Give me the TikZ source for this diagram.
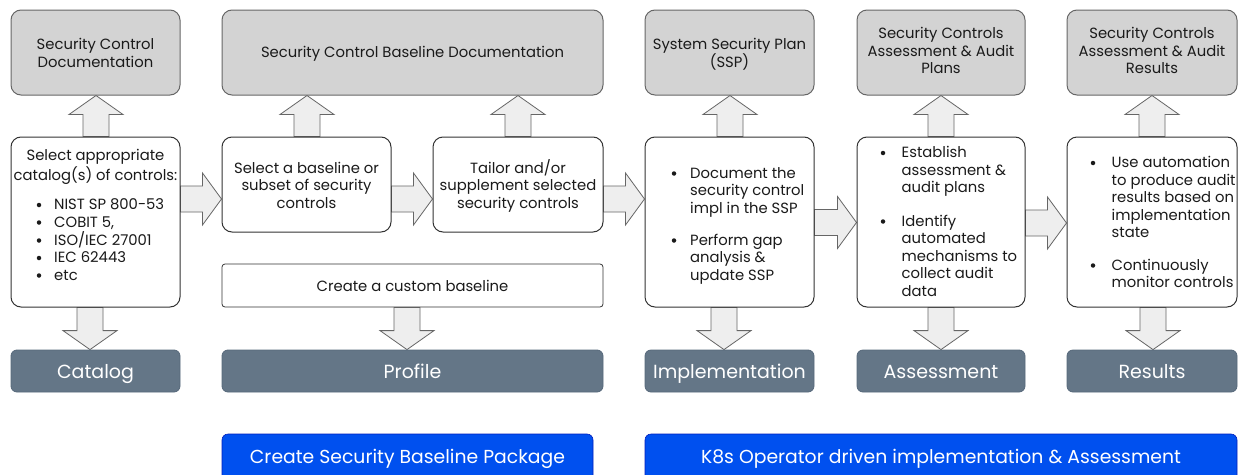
\documentclass[tikz,border=0pt]{standalone}
\usepackage{fontspec}
\setmainfont{Poppins}
\usetikzlibrary{calc,backgrounds}

\definecolor{docfill}{HTML}{D3D3D3}
\definecolor{docline}{HTML}{666666}
\definecolor{boxline}{HTML}{333333}
\definecolor{arrfill}{HTML}{EEEEEE}
\definecolor{arrline}{HTML}{666666}
\definecolor{slatefill}{HTML}{647687}
\definecolor{slateline}{HTML}{56687A}
\definecolor{cobalt}{HTML}{0050EF}
\definecolor{cobaltline}{HTML}{001DBC}
\definecolor{ink}{HTML}{1A1A1A}

\tikzset{
  docbox/.style={draw=docline, fill=docfill, line width=1pt, rounded corners=10pt, inner sep=0pt},
  stepbox/.style={draw=boxline, fill=white, line width=1pt, rounded corners=10pt, inner sep=0pt},
  flatbox/.style={draw=boxline, fill=white, line width=0.8pt, rounded corners=3pt, inner sep=0pt},
  stagebox/.style={draw=slateline, fill=slatefill, line width=0.8pt, rounded corners=6pt, inner sep=0pt},
  phasebox/.style={draw=cobaltline, fill=cobalt, line width=0.6pt, rounded corners=6pt, inner sep=0pt},
  txt/.style={font=\fontsize{14.8}{17.5}\selectfont, text=ink, inner sep=0pt},
  stagetxt/.style={font=\fontsize{19}{22}\selectfont, text=white, inner sep=0pt, anchor=base},
  phasetxt/.style={font=\fontsize{18.8}{22}\selectfont, text=white, inner sep=0pt, anchor=base},
  dot/.style={circle, fill=ink, inner sep=0pt, minimum size=4.5pt},
  blockarrow/.style={draw=arrline, fill=arrfill, line width=0.8pt, line join=miter},
}

% box from corner (x1,y1) to (x2,y2)
\newcommand\panel[6]{%
  \pgfmathsetmacro\pw{#5-#3}\pgfmathsetmacro\ph{#6-#4}%
  \node[#2, minimum width=\pw pt, minimum height=\ph pt] (#1) at ({(#3+#5)/2},{(#4+#6)/2}) {};}

% centred lines of text: name, x, first baseline, list
\newcommand\clines[4]{%
  \foreach \t [count=\i] in {#4}
    \node[txt, anchor=base] (#1-\i) at (#2,{#3+17.5*(\i-1)}) {\t};}

% bulleted item: name, bullet x, text x, first baseline, list
\newcommand\bitem[5]{%
  \node[dot] (#1-dot) at (#2,{#4-4.5}) {};
  \foreach \t [count=\i] in {#5}
    \node[txt, anchor=base west] (#1-\i) at (#3,{#4+17.5*(\i-1)}) {\t};}

% block arrows: x, lower node, upper node
\newcommand\uparr[3]{%
  \draw[blockarrow] let \p1=(#2.north), \p2=(#3.south) in
    ({#1pt-13pt},\y1) -- ({#1pt-13pt},{\y2-19pt}) -- ({#1pt-27pt},{\y2-19pt})
    -- (#1pt,\y2) -- ({#1pt+27pt},{\y2-19pt}) -- ({#1pt+13pt},{\y2-19pt})
    -- ({#1pt+13pt},\y1) -- cycle;}
% x, upper node, lower node
\newcommand\downarr[3]{%
  \draw[blockarrow] let \p1=(#2.south), \p2=(#3.north) in
    ({#1pt-13pt},\y1) -- ({#1pt-13pt},{\y2+19pt}) -- ({#1pt-27pt},{\y2+19pt})
    -- (#1pt,\y2) -- ({#1pt+27pt},{\y2+19pt}) -- ({#1pt+13pt},{\y2+19pt})
    -- ({#1pt+13pt},\y1) -- cycle;}
% y, left node, right node
\newcommand\rightarr[3]{%
  \draw[blockarrow] let \p1=(#2.east), \p2=(#3.west) in
    (\x1,{-#1pt+13pt}) -- ({\x2-19pt},{-#1pt+13pt}) -- ({\x2-19pt},{-#1pt+26pt})
    -- (\x2,-#1pt) -- ({\x2-19pt},{-#1pt-26pt}) -- ({\x2-19pt},{-#1pt-13pt})
    -- (\x1,{-#1pt-13pt}) -- cycle;}

\begin{document}
\begin{tikzpicture}[x=1pt,y=-1pt]
\useasboundingbox (0,0) rectangle (1239,474);

% documentation outputs
\panel{doc1}{docbox}{11}{10}{180}{95}
\panel{doc2}{docbox}{222}{10}{603}{95}
\panel{doc3}{docbox}{645}{10}{814}{95}
\panel{doc4}{docbox}{857}{10}{1025}{95}
\panel{doc5}{docbox}{1067}{10}{1237}{95}
\clines{doc1t}{95.5}{49.5}{Security Control,Documentation}
\clines{doc2t}{412.5}{57.5}{Security Control Baseline Documentation}
\clines{doc3t}{729.5}{49.5}{System Security Plan,(SSP)}
\clines{doc4t}{941}{38.5}{Security Controls,Assessment \& Audit,Plans}
\clines{doc5t}{1152}{38.5}{Security Controls,Assessment \& Audit,Results}

% process steps
\panel{cat}{stepbox}{11}{137}{180}{307}
\panel{sel}{stepbox}{222}{137}{391}{232}
\panel{tail}{stepbox}{433}{137}{603}{232}
\panel{cust}{flatbox}{222}{264}{603}{307}
\panel{impl}{stepbox}{645}{137}{814}{307}
\panel{assess}{stepbox}{857}{137}{1025}{307}
\panel{res}{stepbox}{1067}{137}{1237}{307}

\node[txt, anchor=base] (catt-1) at (95.5,160.5) {Select appropriate};
\node[txt, anchor=base] (catt-2) at (95.5,180) {catalog(s) of controls:};
\bitem{cati1}{39}{54}{209.5}{NIST SP 800-53}
\bitem{cati2}{39}{54}{227}{{COBIT 5,}}
\bitem{cati3}{39}{54}{245}{ISO/IEC 27001}
\bitem{cati4}{39}{54}{262.5}{IEC 62443}
\bitem{cati5}{39}{54}{280}{etc}

\clines{selt}{306.5}{173}{Select a baseline or,subset of security,controls}
\clines{tailt}{518}{173}{Tailor and/or,supplement selected,security controls}
\clines{custt}{412.5}{291}{Create a custom baseline}

\bitem{impli1}{674}{690}{178}{Document the,security control,impl in the SSP}
\bitem{impli2}{674}{690}{245}{Perform gap,analysis \&,update SSP}

\bitem{assi1}{883}{901.5}{157.5}{Establish,assessment \&,audit plans}
\bitem{assi2}{883}{901.5}{226}{Identify,automated,mechanisms to,collect audit,data}

\bitem{resi1}{1093}{1111.5}{167.5}{Use automation,to produce audit,results based on,implementation,state}
\bitem{resi2}{1093}{1111.5}{270}{Continuously,monitor controls}

% OSCAL model stages
\panel{catalog}{stagebox}{11}{350}{180}{392}
\panel{profile}{stagebox}{222}{350}{603}{392}
\panel{implementation}{stagebox}{645}{350}{814}{392}
\panel{assessment}{stagebox}{857}{350}{1025}{392}
\panel{results}{stagebox}{1067}{350}{1237}{392}
\node[stagetxt] (catalogt) at (95.5,378.5) {Catalog};
\node[stagetxt] (profilet) at (412.5,378.5) {Profile};
\node[stagetxt] (implementationt) at (729.5,378.5) {Implementation};
\node[stagetxt] (assessmentt) at (941,378.5) {Assessment};
\node[stagetxt] (resultst) at (1152,378.5) {Results};

% phases
\panel{pkg}{phasebox}{222}{434}{593}{494}
\panel{k8s}{phasebox}{645}{434}{1237}{494}
\node[phasetxt] (pkgt) at (407.5,463.5) {Create Security Baseline Package};
\node[phasetxt] (k8st) at (941,463.5) {K8s Operator driven implementation \& Assessment};

% flow arrows
\begin{scope}[on background layer]
\uparr{96}{cat}{doc1}
\uparr{307}{sel}{doc2}
\uparr{518}{tail}{doc2}
\uparr{730}{impl}{doc3}
\uparr{941}{assess}{doc4}
\uparr{1152}{res}{doc5}
\downarr{90}{cat}{catalog}
\downarr{407}{cust}{profile}
\downarr{724}{impl}{implementation}
\downarr{941}{assess}{assessment}
\downarr{1153}{res}{results}
\rightarr{199}{cat}{sel}
\rightarr{199}{sel}{tail}
\rightarr{199}{tail}{impl}
\rightarr{222.5}{impl}{assess}
\rightarr{223}{assess}{res}
\end{scope}
\end{tikzpicture}
\end{document}
